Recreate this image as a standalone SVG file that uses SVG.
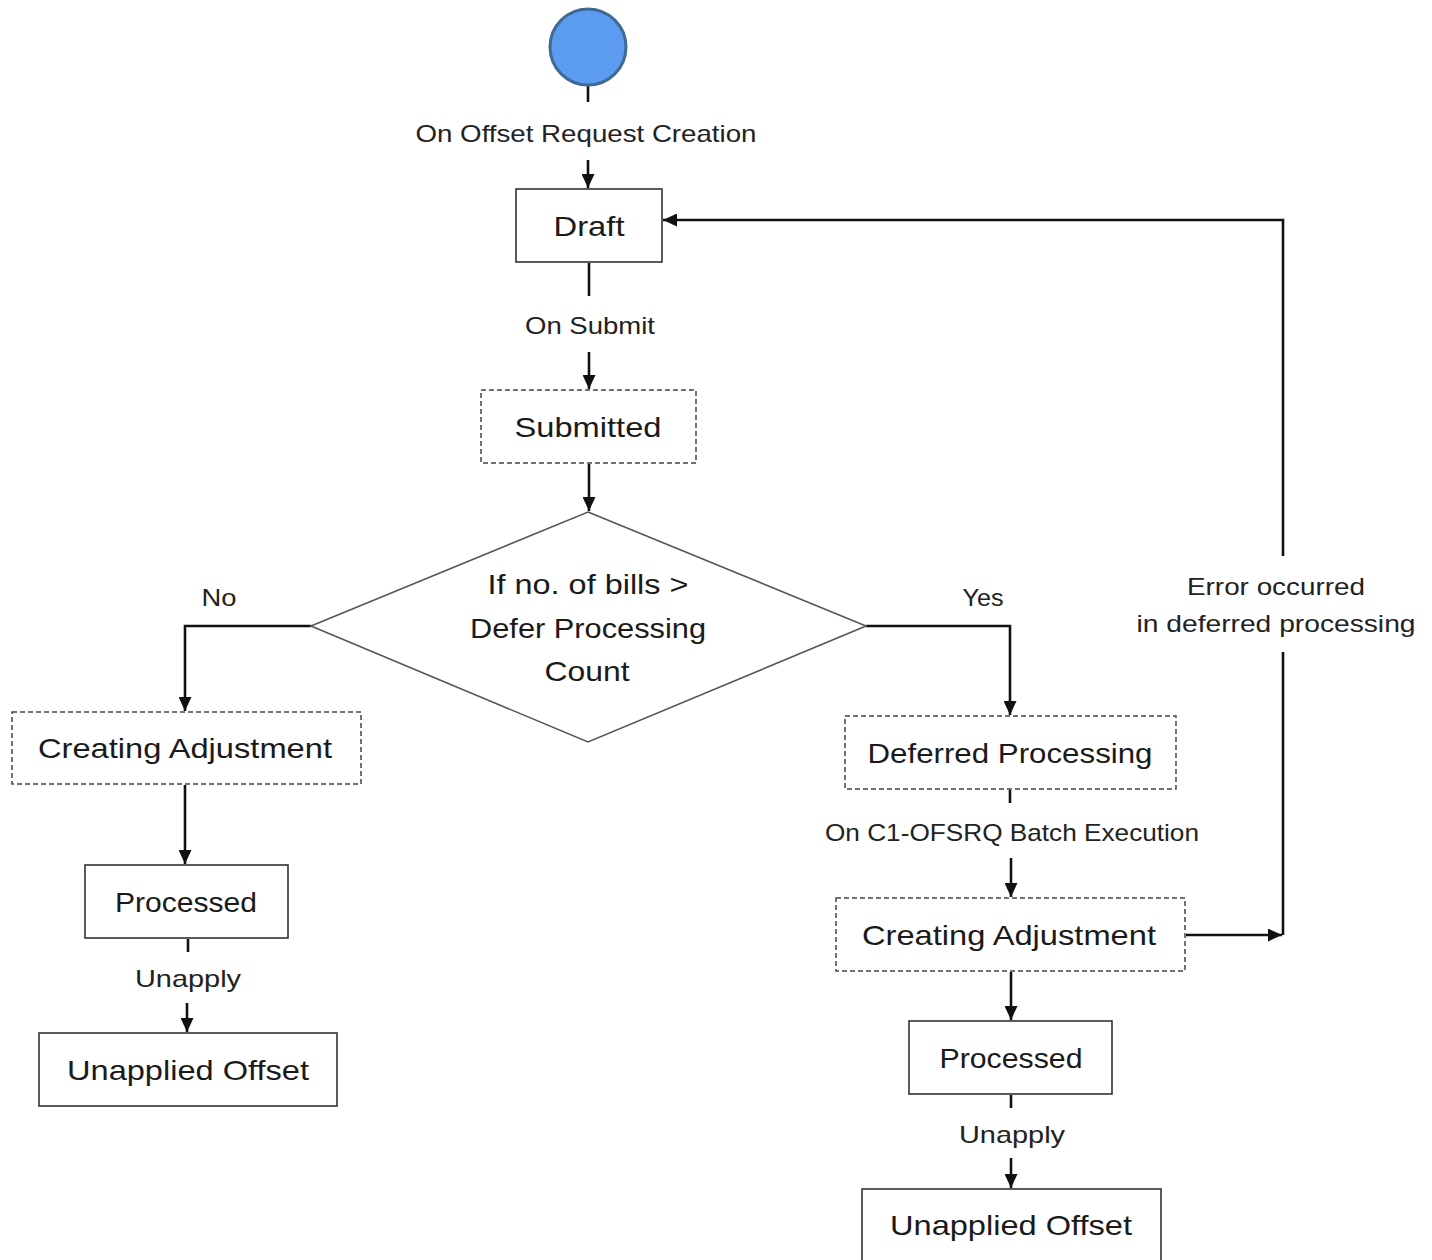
<svg xmlns="http://www.w3.org/2000/svg" width="1432" height="1260" viewBox="0 0 1432 1260">
<style>
.box{fill:#fff;stroke:#333;stroke-width:1.6}
.dash{fill:#fff;stroke:#444;stroke-width:1.5;stroke-dasharray:5 3}
.dia{fill:#fff;stroke:#555;stroke-width:1.6}
.conn{fill:none;stroke:#111;stroke-width:2.6}
.nt{font-family:"Liberation Sans",Arial,sans-serif;font-size:28px;fill:#1a1a1a;text-anchor:middle}
.lt{font-family:"Liberation Sans",Arial,sans-serif;font-size:24px;fill:#222;text-anchor:middle}
</style>
<defs>
<marker id="ah" viewBox="0 0 14 13" refX="14" refY="6.5" markerWidth="14" markerHeight="13" markerUnits="userSpaceOnUse" orient="auto">
<path d="M0,0 L14,6.5 L0,13 z" fill="#111"/>
</marker>
</defs>
<rect width="1432" height="1260" fill="#fff"/>
<g id="connectors">
<path class="conn" d="M588,85 V102"/>
<path class="conn" d="M588,160 V188" marker-end="url(#ah)"/>
<path class="conn" d="M589,263 V296"/>
<path class="conn" d="M589,352 V389" marker-end="url(#ah)"/>
<path class="conn" d="M589,464 V511" marker-end="url(#ah)"/>
<path class="conn" d="M311,626 H185 V711" marker-end="url(#ah)"/>
<path class="conn" d="M866,626 H1010 V715" marker-end="url(#ah)"/>
<path class="conn" d="M185,785 V864" marker-end="url(#ah)"/>
<path class="conn" d="M188,939 V952"/>
<path class="conn" d="M187,1003 V1032" marker-end="url(#ah)"/>
<path class="conn" d="M1010,790 V803"/>
<path class="conn" d="M1011,858 V897" marker-end="url(#ah)"/>
<path class="conn" d="M1011,972 V1020" marker-end="url(#ah)"/>
<path class="conn" d="M1011,1095 V1108"/>
<path class="conn" d="M1011,1158 V1188" marker-end="url(#ah)"/>
<path class="conn" d="M1186,935 H1282" marker-end="url(#ah)"/>
<path class="conn" d="M1283,935 V652"/>
<path class="conn" d="M1283,556 V220 H663" marker-end="url(#ah)"/>
<text class="lt" x="586" y="142" textLength="341" lengthAdjust="spacingAndGlyphs">On Offset Request Creation</text>
<text class="lt" x="590" y="334" textLength="130" lengthAdjust="spacingAndGlyphs">On Submit</text>
<text class="lt" x="219" y="606" textLength="35" lengthAdjust="spacingAndGlyphs">No</text>
<text class="lt" x="983" y="606" textLength="41" lengthAdjust="spacingAndGlyphs">Yes</text>
<text class="lt" x="1012" y="841" textLength="374" lengthAdjust="spacingAndGlyphs">On C1-OFSRQ Batch Execution</text>
<text class="lt" x="188" y="987" textLength="106" lengthAdjust="spacingAndGlyphs">Unapply</text>
<text class="lt" x="1012" y="1143" textLength="106" lengthAdjust="spacingAndGlyphs">Unapply</text>
<text class="lt" x="1276" y="595" textLength="178" lengthAdjust="spacingAndGlyphs">Error occurred</text>
<text class="lt" x="1276" y="632" textLength="279" lengthAdjust="spacingAndGlyphs">in deferred processing</text>
</g>
<g id="start">
<circle cx="588" cy="47" r="38" fill="#5b9bf0" stroke="#3f6a94" stroke-width="3"/>
</g>
<g id="draft">
<rect class="box" x="516" y="189" width="146" height="73"/>
<text class="nt" x="589" y="236" textLength="71" lengthAdjust="spacingAndGlyphs">Draft</text>
</g>
<g id="submitted">
<rect class="dash" x="481" y="390" width="215" height="73"/>
<text class="nt" x="588" y="437" textLength="147" lengthAdjust="spacingAndGlyphs">Submitted</text>
</g>
<g id="decision">
<polygon class="dia" points="588,512 866,626 588,742 311,626"/>
<text class="nt" x="588" y="594" textLength="201" lengthAdjust="spacingAndGlyphs">If no. of bills &gt;</text>
<text class="nt" x="588" y="638" textLength="236" lengthAdjust="spacingAndGlyphs">Defer Processing</text>
<text class="nt" x="587" y="681" textLength="85" lengthAdjust="spacingAndGlyphs">Count</text>
</g>
<g id="creating-left">
<rect class="dash" x="12" y="712" width="349" height="72"/>
<text class="nt" x="185" y="758" textLength="294" lengthAdjust="spacingAndGlyphs">Creating Adjustment</text>
</g>
<g id="processed-left">
<rect class="box" x="85" y="865" width="203" height="73"/>
<text class="nt" x="186" y="912" textLength="142" lengthAdjust="spacingAndGlyphs">Processed</text>
</g>
<g id="unapplied-left">
<rect class="box" x="39" y="1033" width="298" height="73"/>
<text class="nt" x="188" y="1080" textLength="242" lengthAdjust="spacingAndGlyphs">Unapplied Offset</text>
</g>
<g id="deferred">
<rect class="dash" x="845" y="716" width="331" height="73"/>
<text class="nt" x="1010" y="763" textLength="285" lengthAdjust="spacingAndGlyphs">Deferred Processing</text>
</g>
<g id="creating-right">
<rect class="dash" x="836" y="898" width="349" height="73"/>
<text class="nt" x="1009" y="945" textLength="294" lengthAdjust="spacingAndGlyphs">Creating Adjustment</text>
</g>
<g id="processed-right">
<rect class="box" x="909" y="1021" width="203" height="73"/>
<text class="nt" x="1011" y="1068" textLength="143" lengthAdjust="spacingAndGlyphs">Processed</text>
</g>
<g id="unapplied-right">
<rect class="box" x="862" y="1189" width="299" height="72"/>
<text class="nt" x="1011" y="1235" textLength="242" lengthAdjust="spacingAndGlyphs">Unapplied Offset</text>
</g>
</svg>
